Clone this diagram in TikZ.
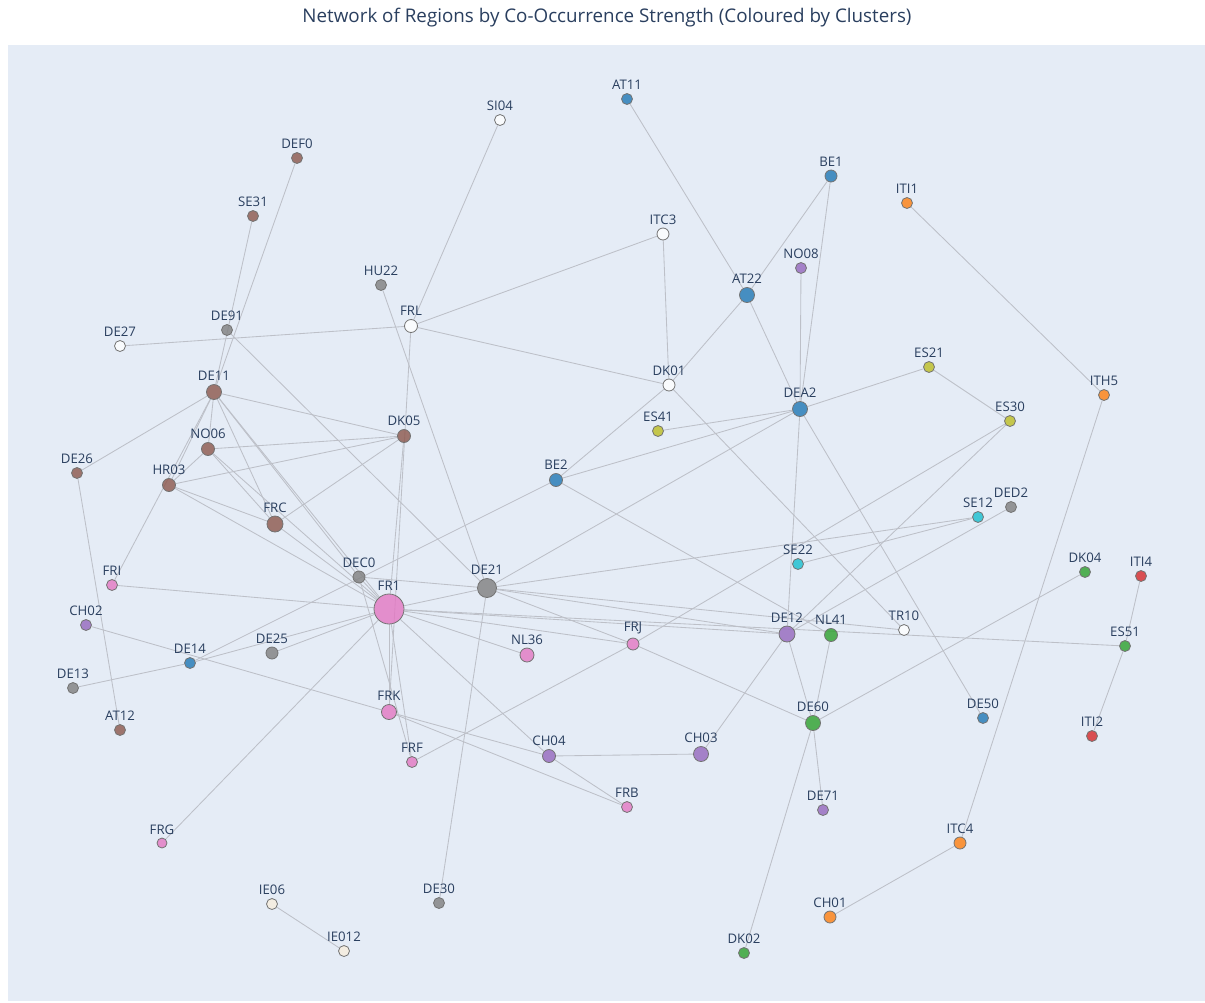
\documentclass[tikz,border=0pt]{standalone}
\usepackage{fontspec}
\setmainfont{Open Sans}
\usetikzlibrary{backgrounds}

\definecolor{plotbg}{HTML}{E5ECF6}
\definecolor{txtcol}{HTML}{2A3F5F}
\definecolor{linkcol}{HTML}{BDC0C8}
\definecolor{cblue}{HTML}{1F77B4}
\definecolor{corange}{HTML}{FF7F0E}
\definecolor{cgreen}{HTML}{2CA02C}
\definecolor{cred}{HTML}{D62728}
\definecolor{cpurple}{HTML}{9467BD}
\definecolor{cbrown}{HTML}{8C564B}
\definecolor{cpink}{HTML}{E377C2}
\definecolor{cgray}{HTML}{7F7F7F}
\definecolor{colive}{HTML}{BCBD22}
\definecolor{ccyan}{HTML}{17BECF}
\definecolor{cwhite}{HTML}{FFFFFF}
\definecolor{ccream}{HTML}{F7EEDD}

\tikzset{
  region/.style={circle,draw=black!55,line width=0.8pt,fill opacity=0.8,inner sep=0pt},
  lbl/.style={text=txtcol,font=\fontsize{13.2}{13.2}\selectfont,inner sep=0pt},
  link/.style={draw=linkcol,line width=0.85pt},
}

\begin{document}
\begin{tikzpicture}[x=1pt,y=-1pt]

\node[text=txtcol,font=\fontsize{18.8}{18.8}\selectfont] (title) at (607,18)
  {Network of Regions by Co-Occurrence Strength (Coloured by Clusters)};

% regions: name/x/y/colour/diameter
\foreach \n/\x/\y/\c/\d in {
  AT11/627/99/cblue/11, SI04/500/120/cwhite/11, DEF0/297/158/cbrown/11,
  SE31/253/216/cbrown/11, BE1/831/176/cblue/12, ITI1/907/203/corange/11,
  ITC3/663/234/cwhite/12, NO08/801/268/cpurple/11, HU22/381/285/cgray/11,
  AT22/747/295/cblue/15, FRL/411/326/cwhite/13, DE91/227/330/cgray/11,
  DE27/120/346/cwhite/11, DK01/669/385/cwhite/12, ES21/929/367/colive/11,
  DEA2/800/409/cblue/15, ITH5/1104/395/corange/11, DE11/214/392/cbrown/15,
  ES41/658/431/colive/11, ES30/1010/421/colive/11, DK05/404/436/cbrown/13,
  NO06/208/449/cbrown/13, DE26/77/473/cbrown/11, HR03/169/485/cbrown/13,
  BE2/556/480/cblue/13, FRC/275/524/cbrown/16, SE12/978/517/ccyan/11,
  DED2/1011/507/cgray/11, SE22/798/564/ccyan/11, DEC0/359/577/cgray/12,
  FR1/389/609/cpink/30, DE21/487/588/cgray/19, FRI/112/585/cpink/11,
  DK04/1085/572/cgreen/11, ITI4/1141/576/cred/11, CH02/86/625/cpurple/11,
  DE14/190/663/cblue/11, DE25/272/653/cgray/12, NL36/527/655/cpink/14,
  FRJ/633/644/cpink/12, DE12/787/634/cpurple/16, NL41/831/635/cgreen/13,
  TR10/904/630/cwhite/11, ES51/1125/646/cgreen/11, DE13/73/688/cgray/11,
  AT12/120/730/cbrown/11, FRK/389/712/cpink/15, DE60/813/723/cgreen/15,
  DE50/983/718/cblue/11, ITI2/1092/736/cred/11, FRF/412/762/cpink/11,
  CH04/549/756/cpurple/13, CH03/701/754/cpurple/15, FRB/627/807/cpink/11,
  DE71/823/810/cpurple/11, FRG/162/843/cpink/10, ITC4/960/843/corange/12,
  IE06/272/904/ccream/11, DE30/439/903/cgray/11, CH01/830/917/corange/12,
  IE012/344/951/ccream/11, DK02/744/953/cgreen/11}
{
  \node[region,fill=\c,minimum size=\d pt,
        label={[lbl,label distance=3pt]above:\n}] (\n) at (\x,\y) {};
}

% plot area and links, under the regions
\begin{scope}[on background layer]
\fill[white] (0,0) rectangle (1205,1002);
\fill[plotbg] (8,45) rectangle (1205,1001);
\foreach \a/\b in {
  AT11/AT22, SI04/FRL, ITC3/FRL, ITC3/DK01, AT22/BE1, AT22/DK01,
  DK01/BE2, AT22/DEA2, BE1/DEA2, NO08/DEA2, DEA2/DE12, DEA2/ES21,
  ES21/ES30, DEA2/ES41, DEA2/BE2, DEA2/DE21, DEA2/DE50, DK01/TR10,
  FRL/DK01, DE27/FRL, FRL/FRK, DK05/FR1, ES30/FRJ, ES30/DE12,
  ITI1/ITH5, ITH5/ITC4, ITC4/CH01, ITI4/ES51, ES51/ITI2, FR1/ES51,
  DE21/TR10, DE21/SE12, SE22/SE12, DED2/DE12, NL41/DE60, DE60/DK02,
  DE60/DK04, DE12/DE60, DE60/DE71, DE12/CH03, IE06/IE012,
  SE31/DE11, DEF0/DE11, DE91/DE21, HU22/DE21, DE11/DE26, DE26/AT12,
  DE11/DK05, DE11/NO06, DE11/HR03, DE11/FRI, NO06/HR03, NO06/DK05,
  HR03/DK05, FRC/DK05, HR03/FRC, HR03/FR1, NO06/FRC, NO06/FR1,
  DE11/FRC, DE11/DEC0, DE11/FR1, FRC/FR1, DEC0/FR1, DEC0/FRF,
  DEC0/DE21, FRI/FR1, CH02/FRK, DE13/DE14, DE14/FR1, DE25/FR1,
  BE2/DE14, FRG/FR1, FR1/FRK, FR1/FRF, FRK/CH04, FRK/FRB, FR1/CH04,
  CH04/FRB, CH04/CH03, FR1/NL36, FR1/FRJ, FR1/DE12, FR1/DE21,
  DE21/DE12, DE21/DE30, DE21/FRJ, FRJ/DE60, FRF/FRJ, BE2/NL41}
{
  \draw[link] (\a) -- (\b);
}
\end{scope}

\end{tikzpicture}
\end{document}
